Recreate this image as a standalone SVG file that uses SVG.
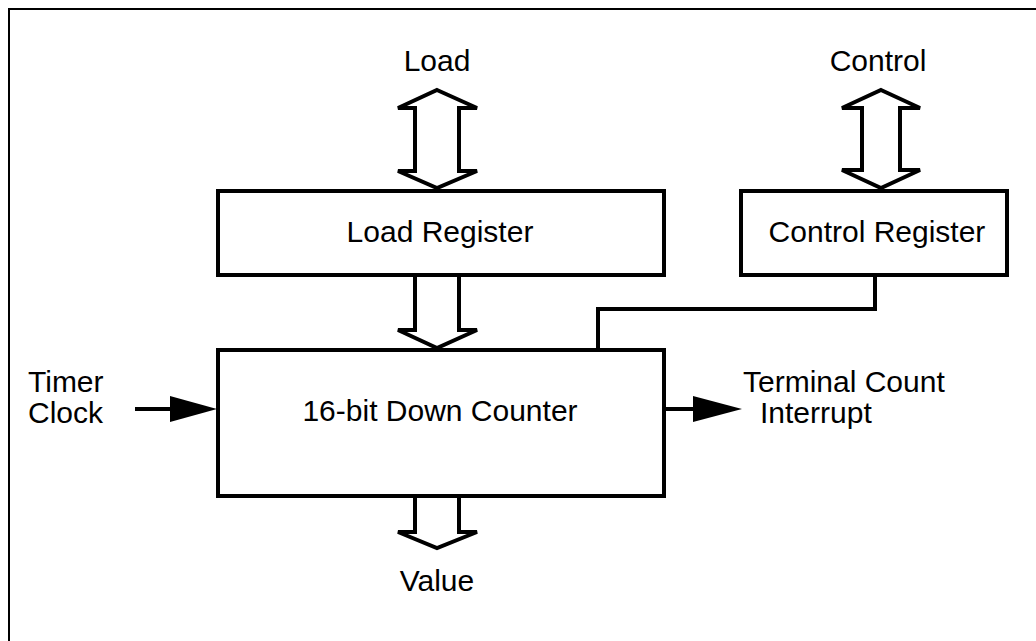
<svg xmlns="http://www.w3.org/2000/svg" width="1036" height="641" viewBox="0 0 1036 641">
<style>
.box{fill:#fff;stroke:#000;stroke-width:4}
.fat{fill:#fff;stroke:#000;stroke-width:4;stroke-linejoin:miter}
.ln{fill:none;stroke:#000;stroke-width:4}
.t{font-family:"Liberation Sans",Arial,sans-serif;font-size:30px;fill:#000}
.c{text-anchor:middle}
</style>
<rect width="1036" height="641" fill="#fff"/>
<path d="M9 641 V9 H1036" fill="none" stroke="#000" stroke-width="2"/>
<g id="connectors">
<path class="fat" d="M437 90 L477 108 H459 V171 H477 L437 188 L398 171 H415 V108 H398 Z"/>
<path class="fat" d="M881 90 L920 108 H900 V170 H920 L881 188 L842 170 H862 V108 H842 Z"/>
<path class="fat" d="M415 275 V330 H398 L437 348 L477 330 H459 V275"/>
<path class="fat" d="M415 496 V532 H398 L437 548 L477 532 H459 V496"/>
<path class="ln" d="M875 275 V309 H598 V350"/>
<path class="ln" d="M135 409 H180"/>
<path d="M170 396 L217 409 L170 422 Z" fill="#000"/>
<path class="ln" d="M665 409 H700"/>
<path d="M693 396 L742 409 L693 422 Z" fill="#000"/>
</g>
<g id="load-register">
<rect class="box" x="218" y="191" width="446" height="84"/>
<text class="t c" x="440" y="242">Load Register</text>
</g>
<g id="control-register">
<rect class="box" x="741" y="191" width="266" height="84"/>
<text class="t c" x="877" y="242">Control Register</text>
</g>
<g id="counter">
<rect class="box" x="218" y="350" width="446" height="146"/>
<text class="t c" x="440" y="421">16-bit Down Counter</text>
</g>
<g id="labels">
<text class="t c" x="437" y="71">Load</text>
<text class="t c" x="878" y="71">Control</text>
<text class="t" x="28" y="392">Timer</text>
<text class="t" x="28" y="423">Clock</text>
<text class="t" x="743" y="392">Terminal Count</text>
<text class="t" x="760" y="423">Interrupt</text>
<text class="t c" x="437" y="591">Value</text>
</g>
</svg>
